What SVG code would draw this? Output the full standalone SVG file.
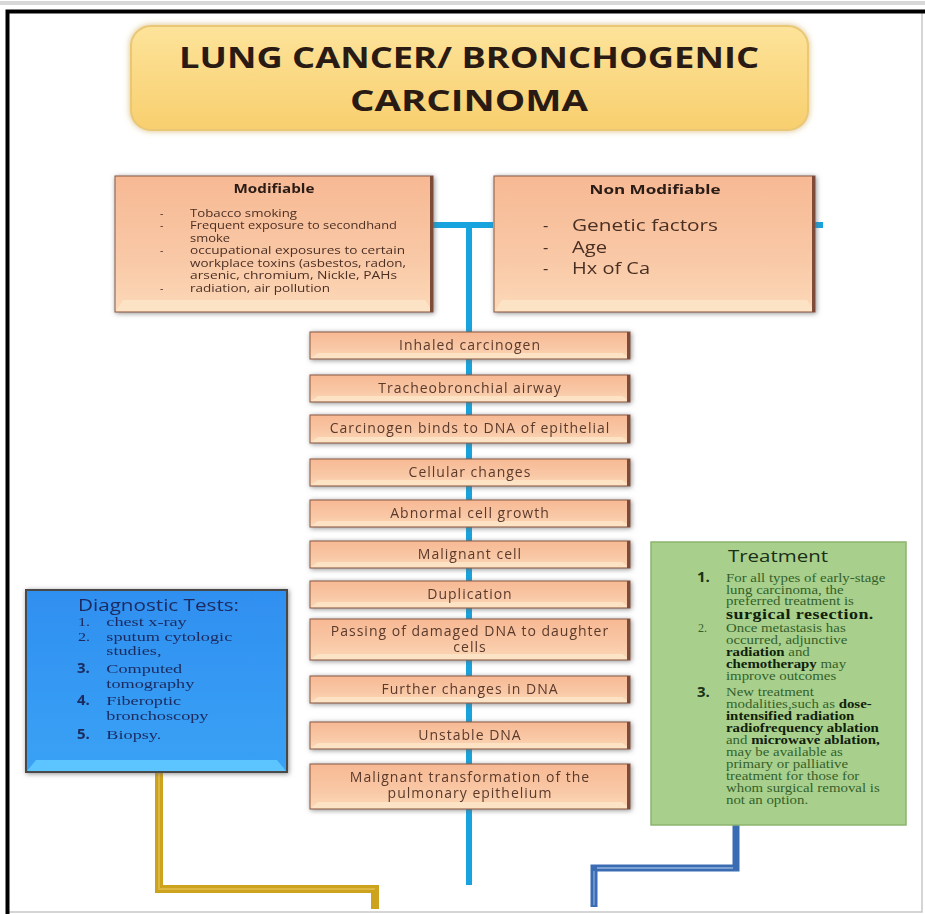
<svg xmlns="http://www.w3.org/2000/svg" width="925" height="914" viewBox="0 0 925 914">
<defs>
  <linearGradient id="gTitle" x1="0" y1="0" x2="0" y2="1">
    <stop offset="0" stop-color="#fde39a"/>
    <stop offset="1" stop-color="#f8cf6e"/>
  </linearGradient>
  <linearGradient id="gPeach" x1="0" y1="0" x2="0" y2="1">
    <stop offset="0" stop-color="#f7b994"/>
    <stop offset="0.6" stop-color="#f9c8a6"/>
    <stop offset="1" stop-color="#fcd9b8"/>
  </linearGradient>
  <linearGradient id="gBlueBox" x1="0" y1="0" x2="0" y2="1">
    <stop offset="0" stop-color="#2f8ff0"/>
    <stop offset="1" stop-color="#3aa2f5"/>
  </linearGradient>
  <filter id="shadow" x="-10%" y="-30%" width="120%" height="160%">
    <feGaussianBlur in="SourceAlpha" stdDeviation="2.5" result="bl"/>
    <feOffset in="bl" dx="1" dy="1" result="b"/>
    <feFlood flood-color="#6b6b6b" flood-opacity="0.75" result="fl"/>
    <feComposite in="fl" in2="b" operator="in" result="sh"/>
    <feMerge><feMergeNode in="sh"/><feMergeNode in="SourceGraphic"/></feMerge>
  </filter>
  <filter id="glow" x="-10%" y="-20%" width="120%" height="140%">
    <feGaussianBlur in="SourceAlpha" stdDeviation="3" result="bl"/>
    <feFlood flood-color="#c9a24a" flood-opacity="0.7" result="fl"/>
    <feComposite in="fl" in2="bl" operator="in" result="gl"/>
    <feMerge><feMergeNode in="gl"/><feMergeNode in="SourceGraphic"/></feMerge>
  </filter>
</defs>
<style>
  .peach { fill: url(#gPeach); stroke: #8a5b45; stroke-width: 1; }
  .bev { fill: #fde4c6; opacity: 0.9; }
  .edge { fill: #7d4c39; }
  .flow { font-family: "Open Sans", "Liberation Sans", sans-serif; font-size: 14px; fill: #5a3a2c; text-anchor: middle; letter-spacing: 1px; }
  .hdr { font-family: "Open Sans", "Liberation Sans", sans-serif; font-weight: bold; fill: #2a1a14; text-anchor: middle; }
  .mod { font-family: "Open Sans", "Liberation Sans", sans-serif; font-size: 10.5px; fill: #4a2f24; }
  .nmod { font-family: "Open Sans", "Liberation Sans", sans-serif; font-size: 16.5px; fill: #4a2f24; }
  .diag { font-family: "Liberation Serif", "DejaVu Serif", serif; font-size: 13.5px; fill: #1c2a5e; }
  .dnum { font-family: "Open Sans", "Liberation Sans", sans-serif; font-size: 15px; font-weight: bold; fill: #1c2a5e; }
  .tr { font-family: "Liberation Serif", "DejaVu Serif", serif; font-size: 12px; fill: #34602b; }
  .trb { font-weight: bold; fill: #0f200c; }
  .tnum { font-family: "Open Sans", "Liberation Sans", sans-serif; font-size: 15px; font-weight: bold; fill: #1a3316; }
  .blue { stroke: #17a3dd; stroke-width: 6; fill: none; }
</style>

<rect width="925" height="914" fill="#ffffff"/>
<!-- page frame -->
<path d="M922 12 V912 H8" fill="none" stroke="#c8c8c8" stroke-width="1.5"/>
<path d="M0 3 H925" stroke="#d8d8d8" stroke-width="4"/>
<path d="M7.5 914 V11.5 H925" fill="none" stroke="#000000" stroke-width="4"/>

<!-- connectors -->
<g id="connectors">
  <path class="blue" d="M433 225 H493"/>
  <path class="blue" d="M815 225 H823"/>
  <path class="blue" d="M469 222 V885"/>
  <path d="M159 772 V889 H375 V909" fill="none" stroke="#cda21c" stroke-width="8"/>
  <path d="M159 772 V889 H375" fill="none" stroke="#e6c55a" stroke-width="2" opacity="0.6"/>
  <path d="M736 825 V868 H594 V907" fill="none" stroke="#3a6cb4" stroke-width="7"/>
  <path d="M597 868 H733" stroke="#a8c4e6" stroke-width="2" opacity="0.6"/>
  <path d="M594 871 V905" stroke="#9dbbe0" stroke-width="2" opacity="0.5"/>
</g>

<!-- title -->
<g id="title">
  <rect x="131" y="26" width="677" height="104" rx="20" fill="url(#gTitle)" stroke="#e9c774" stroke-width="2" filter="url(#glow)"/>
  <text class="hdr" x="469" y="68" font-size="28" textLength="580" lengthAdjust="spacingAndGlyphs" fill="#1e140c">LUNG CANCER/ BRONCHOGENIC</text>
  <text class="hdr" x="469" y="111" font-size="28" textLength="238" lengthAdjust="spacingAndGlyphs" fill="#1e140c">CARCINOMA</text>
</g>

<!-- modifiable -->
<g id="modifiable" filter="url(#shadow)">
  <rect class="peach" x="115" y="176" width="318" height="136"/>
  <polygon class="bev" points="123,300 425,300 432,311 116,311"/>
  <rect class="edge" x="430" y="176" width="3" height="136"/>
  <text class="hdr" x="274" y="193" font-size="12.5" textLength="81" lengthAdjust="spacingAndGlyphs">Modifiable</text>
  <g class="mod">
    <text x="160" y="217">-</text><text x="190" y="217" textLength="107" lengthAdjust="spacingAndGlyphs">Tobacco smoking</text>
    <text x="160" y="229">-</text><text x="190" y="229" textLength="207" lengthAdjust="spacingAndGlyphs">Frequent exposure to secondhand</text>
    <text x="190" y="242" textLength="40" lengthAdjust="spacingAndGlyphs">smoke</text>
    <text x="160" y="254">-</text><text x="190" y="254" textLength="215" lengthAdjust="spacingAndGlyphs">occupational  exposures to certain</text>
    <text x="190" y="267" textLength="216" lengthAdjust="spacingAndGlyphs">workplace toxins (asbestos, radon,</text>
    <text x="190" y="279" textLength="207" lengthAdjust="spacingAndGlyphs">arsenic, chromium, Nickle, PAHs</text>
    <text x="160" y="292">-</text><text x="190" y="292" textLength="140" lengthAdjust="spacingAndGlyphs">radiation, air pollution</text>
  </g>
</g>

<!-- non modifiable -->
<g id="non-modifiable" filter="url(#shadow)">
  <rect class="peach" x="494" y="176" width="321" height="136"/>
  <polygon class="bev" points="502,300 807,300 814,311 495,311"/>
  <rect class="edge" x="812" y="176" width="3" height="136"/>
  <text class="hdr" x="655" y="194" font-size="13" textLength="131" lengthAdjust="spacingAndGlyphs">Non Modifiable</text>
  <g class="nmod">
    <text x="543" y="231">-</text><text x="572" y="231" textLength="146" lengthAdjust="spacingAndGlyphs">Genetic factors</text>
    <text x="543" y="253">-</text><text x="572" y="253" textLength="35" lengthAdjust="spacingAndGlyphs">Age</text>
    <text x="543" y="274">-</text><text x="572" y="274" textLength="78" lengthAdjust="spacingAndGlyphs">Hx of Ca</text>
  </g>
</g>

<!-- flow boxes -->
<g id="s1" filter="url(#shadow)">
  <rect class="peach" x="310" y="332" width="320" height="27"/>
  <polygon class="bev" points="318,353 622,353 629,358 311,358"/>
  <rect class="edge" x="627" y="332" width="3" height="27"/>
  <text class="flow" x="470" y="350">Inhaled carcinogen</text>
</g>
<g id="s2" filter="url(#shadow)">
  <rect class="peach" x="310" y="375" width="320" height="27"/>
  <polygon class="bev" points="318,396 622,396 629,401 311,401"/>
  <rect class="edge" x="627" y="375" width="3" height="27"/>
  <text class="flow" x="470" y="393">Tracheobronchial airway</text>
</g>
<g id="s3" filter="url(#shadow)">
  <rect class="peach" x="310" y="415" width="320" height="28"/>
  <polygon class="bev" points="318,437 622,437 629,442 311,442"/>
  <rect class="edge" x="627" y="415" width="3" height="28"/>
  <text class="flow" x="470" y="433">Carcinogen binds to DNA of epithelial</text>
</g>
<g id="s4" filter="url(#shadow)">
  <rect class="peach" x="310" y="459" width="320" height="27"/>
  <polygon class="bev" points="318,480 622,480 629,485 311,485"/>
  <rect class="edge" x="627" y="459" width="3" height="27"/>
  <text class="flow" x="470" y="477">Cellular changes</text>
</g>
<g id="s5" filter="url(#shadow)">
  <rect class="peach" x="310" y="500" width="320" height="27"/>
  <polygon class="bev" points="318,521 622,521 629,526 311,526"/>
  <rect class="edge" x="627" y="500" width="3" height="27"/>
  <text class="flow" x="470" y="518">Abnormal cell growth</text>
</g>
<g id="s6" filter="url(#shadow)">
  <rect class="peach" x="310" y="541" width="320" height="27"/>
  <polygon class="bev" points="318,562 622,562 629,567 311,567"/>
  <rect class="edge" x="627" y="541" width="3" height="27"/>
  <text class="flow" x="470" y="559">Malignant cell</text>
</g>
<g id="s7" filter="url(#shadow)">
  <rect class="peach" x="310" y="581" width="320" height="27"/>
  <polygon class="bev" points="318,602 622,602 629,607 311,607"/>
  <rect class="edge" x="627" y="581" width="3" height="27"/>
  <text class="flow" x="470" y="599">Duplication</text>
</g>
<g id="s8" filter="url(#shadow)">
  <rect class="peach" x="310" y="619" width="320" height="41"/>
  <polygon class="bev" points="318,654 622,654 629,659 311,659"/>
  <rect class="edge" x="627" y="619" width="3" height="41"/>
  <text class="flow" x="470" y="636">Passing of damaged DNA to daughter</text>
  <text class="flow" x="470" y="652">cells</text>
</g>
<g id="s9" filter="url(#shadow)">
  <rect class="peach" x="310" y="676" width="320" height="27"/>
  <polygon class="bev" points="318,697 622,697 629,702 311,702"/>
  <rect class="edge" x="627" y="676" width="3" height="27"/>
  <text class="flow" x="470" y="694">Further changes in DNA</text>
</g>
<g id="s10" filter="url(#shadow)">
  <rect class="peach" x="310" y="722" width="320" height="27"/>
  <polygon class="bev" points="318,743 622,743 629,748 311,748"/>
  <rect class="edge" x="627" y="722" width="3" height="27"/>
  <text class="flow" x="470" y="740">Unstable DNA</text>
</g>
<g id="s11" filter="url(#shadow)">
  <rect class="peach" x="310" y="764" width="320" height="45"/>
  <polygon class="bev" points="318,802 622,802 629,808 311,808"/>
  <rect class="edge" x="627" y="764" width="3" height="45"/>
  <text class="flow" x="470" y="782">Malignant transformation of the</text>
  <text class="flow" x="470" y="798">pulmonary epithelium</text>
</g>

<!-- diagnostic tests -->
<g id="diagnostic" filter="url(#shadow)">
  <rect x="26" y="590" width="261" height="182" fill="url(#gBlueBox)" stroke="#4a4a4a" stroke-width="2"/>
  <polygon points="36,760 277,760 286,771 27,771" fill="#5cc4ff"/>
  <text x="78" y="611" font-family="Open Sans, Liberation Sans, sans-serif" font-size="16" fill="#1c2a5e" textLength="161" lengthAdjust="spacingAndGlyphs">Diagnostic Tests:</text>
  <g class="diag" transform="translate(78 0) scale(1.35 1) translate(-78 0)">
    <text x="78" y="626" font-size="12">1.</text><text x="99" y="626">chest x-ray</text>
    <text x="78" y="641" font-size="12">2.</text><text x="99" y="641">sputum cytologic</text>
    <text x="99" y="655">studies,</text>
    <text x="99" y="673">Computed</text>
    <text x="99" y="688">tomography</text>
    <text x="99" y="705">Fiberoptic</text>
    <text x="99" y="720">bronchoscopy</text>
    <text x="99" y="739">Biopsy.</text>
  </g>
  <text class="dnum" x="77" y="673">3.</text>
  <text class="dnum" x="77" y="705">4.</text>
  <text class="dnum" x="77" y="739">5.</text>
</g>

<!-- treatment -->
<g id="treatment">
  <rect x="651" y="542" width="255" height="283" fill="#a8d08c" stroke="#8cb46e" stroke-width="1.5"/>
  <text x="728" y="562" font-family="Open Sans, Liberation Sans, sans-serif" font-size="17" fill="#1a2e16" textLength="100" lengthAdjust="spacingAndGlyphs">Treatment</text>
  <text class="tnum" x="697" y="582">1.</text>
  <text class="tr" x="698" y="632" font-size="11">2.</text>
  <text class="tnum" x="697" y="697">3.</text>
  <g class="tr" transform="translate(726 0) scale(1.24 1) translate(-726 0)">
    <text x="726" y="582">For all types of early-stage</text>
    <text x="726" y="594">lung carcinoma, the</text>
    <text x="726" y="605">preferred treatment is</text>
    <text x="726" y="619" class="trb" font-size="14.5" letter-spacing="0.4">surgical resection.</text>
    <text x="726" y="632">Once metastasis has</text>
    <text x="726" y="644">occurred, adjunctive</text>
    <text x="726" y="656"><tspan class="trb">radiation</tspan> and</text>
    <text x="726" y="668"><tspan class="trb">chemotherapy</tspan> may</text>
    <text x="726" y="680">improve outcomes</text>
    <text x="726" y="696">New treatment</text>
    <text x="726" y="708">modalities,such as <tspan class="trb">dose-</tspan></text>
    <text x="726" y="720" class="trb">intensified radiation</text>
    <text x="726" y="732" class="trb">radiofrequency ablation</text>
    <text x="726" y="744">and <tspan class="trb">microwave ablation,</tspan></text>
    <text x="726" y="756">may be available as</text>
    <text x="726" y="768">primary or palliative</text>
    <text x="726" y="780">treatment for those for</text>
    <text x="726" y="792">whom surgical removal is</text>
    <text x="726" y="804">not an option.</text>
  </g>
</g>
</svg>
